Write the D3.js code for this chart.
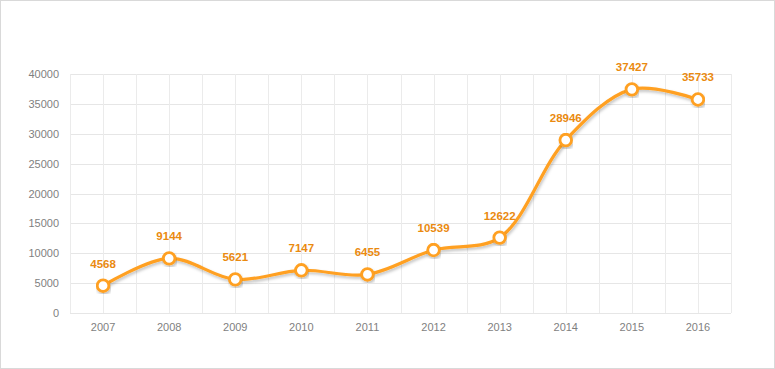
<!DOCTYPE html>
<html><head><meta charset="utf-8">
<script src="https://cdn.jsdelivr.net/npm/d3@7"></script>
<style>body{margin:0;background:#fff;} svg{display:block;}</style>
</head><body>
<svg id="c" width="775" height="369"></svg>
<script>
const years = ["2007","2008","2009","2010","2011","2012","2013","2014","2015","2016"];
const values = [4568, 9144, 5621, 7147, 6455, 10539, 12622, 28946, 37427, 35733];
const yTicks = [0,5000,10000,15000,20000,25000,30000,35000,40000];

const svg = d3.select("#c");
const W = 775, H = 369;
const m = {left:70, right:44, top:74, bottom:56};
const pw = W - m.left - m.right, ph = H - m.top - m.bottom;

svg.append("rect").attr("x",0.5).attr("y",0.5).attr("width",W-1).attr("height",H-1)
  .attr("fill","#fff").attr("stroke","#d9d9d9");

const defs = svg.append("defs");
const f = defs.append("filter").attr("id","sh").attr("x","-10%").attr("y","-10%").attr("width","120%").attr("height","130%");
f.append("feDropShadow").attr("dx",1).attr("dy",2).attr("stdDeviation",1.5).attr("flood-color","#000").attr("flood-opacity",0.25);

const x = d3.scaleBand().domain(years).range([m.left, m.left+pw]);
const y = d3.scaleLinear().domain([0,40000]).range([m.top+ph, m.top]);

const g = svg.append("g");
g.selectAll(".hg").data(yTicks).join("line")
  .attr("x1",m.left).attr("x2",m.left+pw)
  .attr("y1",d=>Math.round(y(d))+0.5).attr("y2",d=>Math.round(y(d))+0.5)
  .attr("stroke","#e6e6e6").attr("stroke-width",1);
const vx = [];
years.forEach(d=>{ vx.push(x(d)); vx.push(x(d)+x.bandwidth()/2); });
vx.push(m.left+pw);
g.selectAll(".vg").data(vx).join("line")
  .attr("x1",d=>Math.round(d)+0.5).attr("x2",d=>Math.round(d)+0.5)
  .attr("y1",m.top).attr("y2",m.top+ph)
  .attr("stroke","#ebebeb").attr("stroke-width",1);

const yAxis = d3.axisLeft(y).tickValues(yTicks).tickSize(0).tickPadding(11).tickFormat(d3.format("d"));
const ya = svg.append("g").attr("transform",`translate(${m.left},0)`).call(yAxis);
ya.select(".domain").remove();
ya.selectAll("text").attr("fill","#7f7f7f").style("font-family","'Liberation Sans',Arial,sans-serif").style("font-size","11px");

const xAxis = d3.axisBottom(x).tickSize(0).tickPadding(10);
const xa = svg.append("g").attr("transform",`translate(0,${m.top+ph})`).call(xAxis);
xa.select(".domain").remove();
xa.selectAll("text").attr("fill","#7f7f7f").style("font-family","'Liberation Sans',Arial,sans-serif").style("font-size","11px");

const cx = d => x(d)+x.bandwidth()/2;
const pts = years.map((d,i)=>[cx(d), y(values[i])]);
const line = d3.line().curve(d3.curveCatmullRom.alpha(0.5));
svg.append("path").attr("d",line(pts)).attr("fill","none")
  .attr("stroke","#ffa020").attr("stroke-width",3.2).attr("filter","url(#sh)");

svg.selectAll(".pt").data(pts).join("circle")
  .attr("cx",d=>d[0]).attr("cy",d=>d[1]).attr("r",5.8)
  .attr("fill","#fff").attr("stroke","#ffa020").attr("stroke-width",2.8).attr("filter","url(#sh)");

svg.selectAll(".lbl").data(years).join("text")
  .attr("x",d=>cx(d)).attr("y",(d,i)=>y(values[i])-18)
  .attr("text-anchor","middle")
  .attr("fill","#ea8a10").style("font-family","'Liberation Sans',Arial,sans-serif")
  .style("font-size","11.5px").style("font-weight","bold")
  .text((d,i)=>values[i]);
</script>
</body></html>
